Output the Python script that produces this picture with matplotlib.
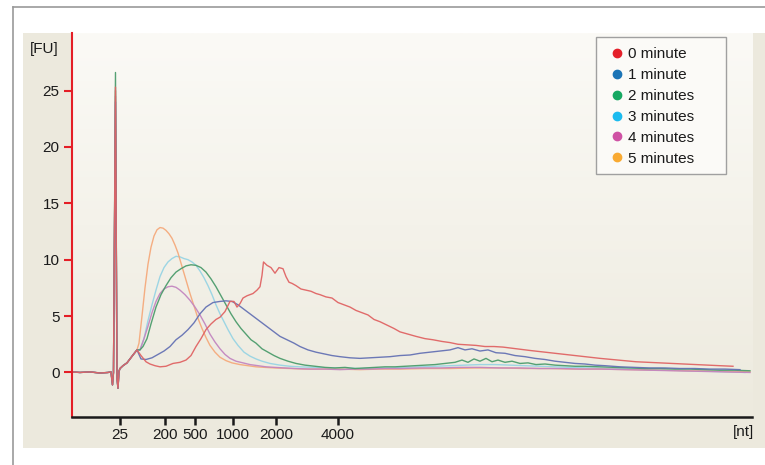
import matplotlib
import matplotlib.pyplot as plt
from matplotlib.lines import Line2D
from matplotlib.patches import Rectangle
import numpy as np

matplotlib.use("Agg")
plt.rcParams["font.family"] = ["Liberation Sans", "DejaVu Sans"]

# migration time axis (arbitrary linear units) and ladder positions
ladder_pos = [120, 165, 194.7, 232.7, 276, 337.7]
ladder_labels = ["25", "200", "500", "1000", "2000", "4000"]
fu_ticks = [0, 5, 10, 15, 20, 25]

# shared lower-marker region, index 8 is the marker spike
x_start = [72, 80, 90, 100, 108, 111, 112.5, 113.5, 115.5, 117, 118, 119, 120, 123, 127, 130, 133, 137]
fu_start = [0.05, 0.0, 0.05, -0.05, 0.0, 0.05, -1.1, 0.0, 25.3, -0.5, -1.4, 0.1, 0.35, 0.6, 0.85, 1.2, 1.55, 2.0]

labels = ["0 minute", "1 minute", "2 minutes", "3 minutes", "4 minutes", "5 minutes"]
spike_top = [25.3, 24.0, 26.6, 25.0, 24.5, 25.0]

x_0min = [141, 146, 150, 155, 160, 166, 173, 180, 186, 191, 196, 201, 206, 211, 216, 220, 225, 230, 234,
          237, 240, 243, 247, 253, 257, 260, 262, 263.5, 267, 271, 275, 279, 283, 286, 289, 292, 296, 301,
          306, 311, 316, 320, 326, 332, 338, 344, 350, 356, 362, 368, 374, 380, 387, 394, 400, 408, 416,
          425, 433, 442, 450, 458, 467, 476, 485, 494, 503, 512, 521, 530, 540, 550, 560, 570, 580, 590,
          600, 612, 624, 636, 648, 660, 672, 684, 696, 708, 720, 733]
fu_0min = [1.5, 0.95, 0.75, 0.6, 0.5, 0.55, 0.8, 0.9, 1.1, 1.5, 2.3, 3.0, 3.8, 4.3, 4.7, 4.9, 5.4, 6.3, 6.3,
           5.8, 6.1, 6.6, 6.8, 7.0, 7.3, 7.6, 8.6, 9.8, 9.5, 9.3, 8.8, 9.3, 9.2, 8.5, 8.0, 7.9, 7.7, 7.4,
           7.3, 7.2, 7.0, 6.9, 6.7, 6.6, 6.2, 6.0, 5.8, 5.5, 5.3, 5.1, 4.7, 4.5, 4.2, 3.9, 3.6, 3.4, 3.2,
           3.0, 2.9, 2.75, 2.65, 2.5, 2.45, 2.4, 2.3, 2.3, 2.25, 2.15, 2.05, 1.95, 1.85, 1.75, 1.65, 1.55,
           1.45, 1.35, 1.25, 1.15, 1.05, 0.95, 0.9, 0.85, 0.8, 0.75, 0.7, 0.65, 0.6, 0.55]

x_1min = [141, 146, 152, 158, 164, 170, 176, 182, 188, 194, 200, 206, 213, 220, 226, 232, 238, 244, 250,
          256, 262, 268, 274, 280, 287, 294, 300, 308, 316, 324, 332, 340, 350, 360, 370, 380, 390, 400,
          410, 420, 430, 440, 450, 458, 465, 472, 480, 488, 496, 505, 515, 525, 535, 545, 555, 565, 575,
          585, 595, 605, 620, 635, 650, 665, 680, 695, 710, 725, 740]
fu_1min = [1.2, 1.15, 1.3, 1.6, 1.9, 2.3, 2.9, 3.3, 3.8, 4.4, 5.2, 5.8, 6.2, 6.3, 6.35, 6.3, 6.0, 5.6, 5.2,
           4.8, 4.4, 4.0, 3.6, 3.2, 2.9, 2.6, 2.3, 2.0, 1.8, 1.65, 1.5, 1.4, 1.3, 1.25, 1.3, 1.35, 1.4, 1.5,
           1.55, 1.7, 1.8, 1.9, 2.0, 2.2, 2.0, 2.1, 1.9, 2.0, 1.75, 1.7, 1.5, 1.4, 1.25, 1.15, 1.0, 0.9, 0.8,
           0.75, 0.65, 0.6, 0.5, 0.45, 0.4, 0.4, 0.35, 0.35, 0.3, 0.3, 0.25]

x_2min = [140, 143, 147, 151, 156, 161, 166, 171, 176, 181, 186, 191, 196, 201, 206, 211, 216, 221, 226,
          231, 236, 241, 246, 251, 256, 262, 268, 274, 280, 288, 296, 305, 315, 325, 335, 345, 355, 365,
          375, 385, 395, 405, 415, 425, 435, 445, 455, 462, 468, 474, 480, 486, 492, 498, 505, 512, 520,
          528, 536, 545, 555, 565, 575, 585, 600, 615, 630, 645, 660, 675, 690, 705, 720, 735, 750]
fu_2min = [2.0, 2.3, 3.0, 4.3, 5.8, 6.9, 7.7, 8.4, 8.9, 9.2, 9.45, 9.55, 9.5, 9.3, 8.9, 8.3, 7.6, 6.8, 6.0,
           5.2, 4.5, 3.9, 3.4, 2.9, 2.6, 2.1, 1.8, 1.5, 1.25, 1.0, 0.8, 0.65, 0.55, 0.45, 0.4, 0.45, 0.35,
           0.4, 0.45, 0.5, 0.5, 0.55, 0.6, 0.65, 0.7, 0.8, 0.9, 1.1, 0.9, 1.2, 1.0, 1.25, 0.95, 1.1, 0.9,
           1.0, 0.8, 0.85, 0.7, 0.75, 0.65, 0.6, 0.55, 0.55, 0.5, 0.45, 0.4, 0.35, 0.35, 0.3, 0.3, 0.25,
           0.2, 0.2, 0.15]

x_3min = [140, 144, 148, 152, 156, 160, 164, 168, 172, 176, 180, 184, 188, 192, 196, 200, 204, 208, 212,
          216, 220, 224, 228, 233, 238, 244, 250, 256, 262, 270, 280, 290, 300, 315, 330, 345, 360, 375,
          390, 405, 420, 435, 450, 465, 480, 495, 510, 525, 540, 555, 570, 590, 610, 630, 650, 670, 690,
          710, 730, 745]
fu_3min = [2.0, 3.0, 4.6, 6.0, 7.3, 8.5, 9.3, 9.8, 10.1, 10.3, 10.25, 10.1, 10.0, 9.8, 9.5, 9.0, 8.4, 7.7,
           6.9, 6.0, 5.2, 4.5, 3.8, 3.0, 2.4, 1.8, 1.45, 1.2, 1.0, 0.8, 0.65, 0.55, 0.5, 0.45, 0.4, 0.4,
           0.35, 0.4, 0.4, 0.45, 0.5, 0.55, 0.6, 0.65, 0.7, 0.7, 0.65, 0.6, 0.55, 0.5, 0.45, 0.4, 0.35,
           0.3, 0.25, 0.2, 0.15, 0.1, 0.05, 0.0]

x_4min = [140, 144, 148, 152, 156, 160, 164, 168, 172, 176, 180, 185, 190, 195, 200, 205, 210, 215, 220,
          225, 230, 236, 243, 250, 258, 266, 275, 285, 295, 310, 325, 340, 355, 370, 385, 400, 420, 440,
          460, 480, 500, 520, 540, 560, 580, 600, 625, 650, 675, 700, 725, 750]
fu_4min = [2.0, 3.0, 4.1, 5.3, 6.3, 7.0, 7.4, 7.6, 7.65, 7.55, 7.3, 6.9, 6.4, 5.8, 5.1, 4.3, 3.4, 2.7, 2.1,
           1.6, 1.25, 1.0, 0.85, 0.7, 0.6, 0.5, 0.45, 0.4, 0.35, 0.3, 0.3, 0.25, 0.3, 0.3, 0.35, 0.35, 0.4,
           0.4, 0.45, 0.45, 0.4, 0.4, 0.35, 0.35, 0.3, 0.3, 0.25, 0.2, 0.15, 0.1, 0.05, 0.0]

x_5min = [139, 142, 145, 148, 151, 154, 157, 160, 163, 166, 169, 172, 175, 178, 181, 184, 187, 190, 194,
          198, 202, 206, 210, 215, 220, 226, 232, 240, 248, 256, 265, 275, 290, 305, 320, 340, 360, 380,
          400, 425, 450, 475, 500, 525, 550, 575, 600, 630, 660, 690, 720, 750]
fu_5min = [2.6, 5.0, 7.5, 9.6, 11.1, 12.1, 12.65, 12.85, 12.8, 12.6, 12.3, 11.9, 11.3, 10.6, 9.7, 8.8, 7.9,
           7.0, 5.9, 4.8, 3.9, 3.1, 2.4, 1.8, 1.35, 1.05, 0.85, 0.7, 0.6, 0.5, 0.45, 0.4, 0.35, 0.3, 0.3,
           0.3, 0.25, 0.3, 0.3, 0.35, 0.35, 0.4, 0.4, 0.35, 0.35, 0.3, 0.3, 0.25, 0.2, 0.15, 0.1, 0.05]

line_colors = ["#e06464", "#6572b4", "#4c9c6c", "#98d4e4", "#c386c0", "#f5aa7c"]
dot_colors = ["#e4202a", "#1b74b6", "#16a862", "#1bbbef", "#cf52a4", "#f9aa32"]

x_tails = [x_0min, x_1min, x_2min, x_3min, x_4min, x_5min]
fu_tails = [fu_0min, fu_1min, fu_2min, fu_3min, fu_4min, fu_5min]

fig = plt.figure(figsize=(7.65, 4.65), dpi=100)
fig.patch.set_facecolor("white")

# beige panel and grey frame lines
fig.add_artist(Rectangle((0.0301, 0.0366), 0.97, 0.8925, transform=fig.transFigure,
                         facecolor="#ece9dd", edgecolor="none", zorder=0))
fig.add_artist(Line2D([0.017, 1.0], [0.9839, 0.9839], transform=fig.transFigure,
                      color="#9a9a9a", lw=1.2))
fig.add_artist(Line2D([0.017, 0.017], [0.0, 0.9839], transform=fig.transFigure,
                      color="#9a9a9a", lw=1.2))

rect = [0.0941, 0.1032, 0.8889, 0.8258]
bg = fig.add_axes(rect, zorder=1)
top_col = np.array([251, 250, 246]) / 255
bot_col = np.array([237, 234, 222]) / 255
ramp = np.linspace(0, 1, 256)[:, None, None]
bg.imshow(top_col * (1 - ramp) + bot_col * ramp, aspect="auto", extent=[0, 1, 0, 1])
bg.axis("off")

ax = fig.add_axes(rect, zorder=2)
ax.set_facecolor("none")

# draw order: red last so it sits on top
for i in [3, 5, 4, 2, 1, 0]:
    fu_low = list(fu_start)
    fu_low[8] = spike_top[i]
    ax.plot(x_start + x_tails[i], fu_low + fu_tails[i], color=line_colors[i], lw=1.0, alpha=0.95)

ax.set_xlim(72, 752)
ax.set_ylim(-3.95, 30.1)
ax.set_xticks(ladder_pos)
ax.set_xticklabels(ladder_labels)
ax.set_yticks(fu_ticks)

for side in ["top", "right"]:
    ax.spines[side].set_visible(False)
ax.spines["left"].set_color("#e41e26")
ax.spines["left"].set_linewidth(1.5)
ax.spines["bottom"].set_color("#1a1a1a")
ax.spines["bottom"].set_linewidth(1.8)

ax.tick_params(axis="y", direction="out", length=6, width=1.5, color="#e41e26",
               labelcolor="#1a1a1a", labelsize=11, pad=3)
ax.tick_params(axis="x", direction="out", length=6, width=1.8, color="#1a1a1a",
               labelcolor="#1a1a1a", labelsize=11, pad=2)

fig.text(0.0582, 0.8946, "[FU]", ha="center", va="center", fontsize=11, color="#1a1a1a")
fig.text(0.9856, 0.071, "[nt]", ha="right", va="center", fontsize=11, color="#1a1a1a")

# legend frame and entries
ax.add_patch(Rectangle((0.7706, 0.6328), 0.1912, 0.3568, transform=ax.transAxes,
                       facecolor="#fbfaf7", edgecolor="#a0a0a0", lw=1.0, zorder=5))
handles = [Line2D([], [], marker="o", linestyle="", color=c, markersize=6) for c in dot_colors]
leg = ax.legend(handles, labels, loc="upper left", bbox_to_anchor=(0.7785, 0.9826),
                frameon=False, borderpad=0, handlelength=1.0, handletextpad=0.22,
                labelspacing=0.45, fontsize=11)
leg.set_zorder(6)
for t in leg.get_texts():
    t.set_color("#1a1a1a")

fig.savefig("out.png", dpi=100)
